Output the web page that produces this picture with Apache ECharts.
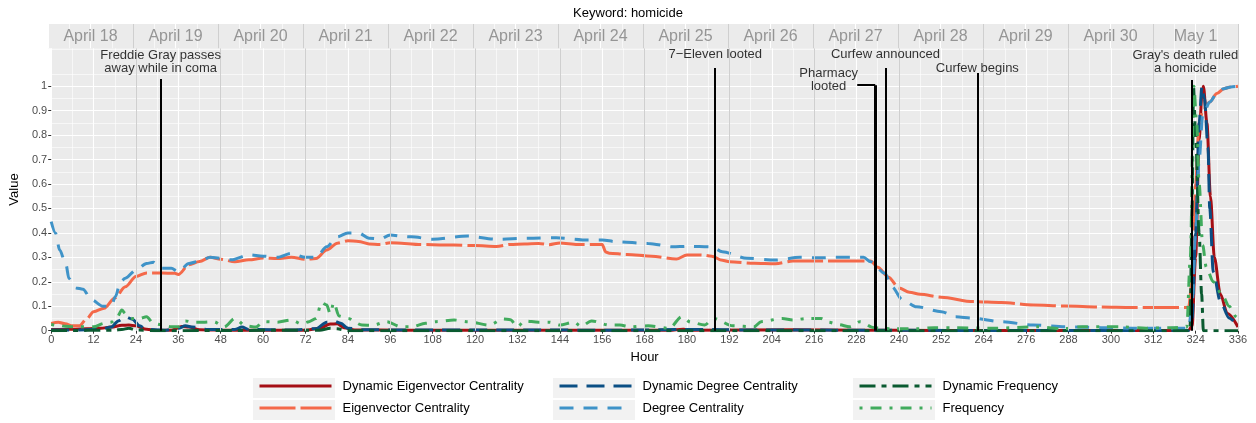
<!DOCTYPE html>
<html>
<head>
<meta charset="utf-8">
<script src="https://cdn.jsdelivr.net/npm/echarts@6/dist/echarts.min.js"></script>
<style>
html, body { margin: 0; padding: 0; background: #fff; }
#chart { width: 1256px; height: 423px; }
</style>
</head>
<body>
<div id="chart"></div>
<script>
// days shown in the top strip, one per 24 hours
const days = ['April 18', 'April 19', 'April 20', 'April 21', 'April 22', 'April 23', 'April 24',
  'April 25', 'April 26', 'April 27', 'April 28', 'April 29', 'April 30', 'May 1']
const xTicks = [0, 12, 24, 36, 48, 60, 72, 84, 96, 108, 120, 132, 144, 156, 168, 180, 192, 204,
  216, 228, 240, 252, 264, 276, 288, 300, 312, 324, 336]
const yTicks = [0, 0.1, 0.2, 0.3, 0.4, 0.5, 0.6, 0.7, 0.8, 0.9, 1]

// [hour, value]
const dynEigen = [[0, 0.005], [6, 0.006], [10, 0.008], [14, 0.01], [17, 0.015], [20, 0.022], [22, 0.023],
  [24, 0.02], [27, 0.006], [30, 0.001], [34, 0.002], [37, 0.017], [39, 0.015], [42, 0.004], [50, 0.002],
  [60, 0.002], [72, 0.002], [76, 0.01], [79, 0.027], [81, 0.028], [83, 0.012], [86, 0.003], [100, 0.002],
  [120, 0.002], [150, 0.002], [175, 0.002], [179, 0.006], [182, 0.002], [210, 0.004], [230, 0.002],
  [250, 0.001], [280, 0.001], [322, 0.001], [323, 0.02], [324, 0.3], [325, 0.78], [325.8, 0.97],
  [326.2, 1.0], [327.2, 0.85], [328.2, 0.55], [329.3, 0.3], [331, 0.15], [333, 0.07], [336, 0.015]]

const eigen = [[0, 0.03], [2, 0.035], [4, 0.028], [6, 0.02], [8, 0.02], [10, 0.048], [12, 0.078],
  [15, 0.092], [18, 0.134], [21, 0.18], [24, 0.222], [27, 0.236], [30, 0.236], [33, 0.235], [35, 0.235],
  [36, 0.23], [39, 0.27], [42, 0.283], [45, 0.3], [48, 0.292], [52, 0.282], [56, 0.29], [60, 0.297],
  [64, 0.295], [68, 0.3], [72, 0.292], [75, 0.295], [78, 0.33], [81, 0.358], [84, 0.368], [87, 0.365],
  [90, 0.355], [93, 0.353], [96, 0.36], [100, 0.357], [104, 0.353], [108, 0.352], [114, 0.35],
  [120, 0.348], [126, 0.344], [130, 0.353], [134, 0.355], [138, 0.357], [141, 0.352], [144, 0.359],
  [149, 0.353], [156, 0.353], [157, 0.322], [158, 0.317], [163, 0.312], [170, 0.305], [177, 0.293],
  [180, 0.31], [184, 0.31], [187, 0.305], [190, 0.288], [192, 0.282], [199, 0.276], [205, 0.274],
  [210, 0.285], [218, 0.285], [225, 0.285], [232, 0.285], [234, 0.26], [237, 0.22], [240, 0.175],
  [243, 0.157], [246, 0.149], [252, 0.137], [261, 0.119], [269, 0.115], [278, 0.105], [287, 0.101],
  [297, 0.097], [306, 0.095], [322, 0.095], [323, 0.2], [324, 0.6], [325, 0.85], [326, 0.9],
  [328, 0.935], [330, 0.97], [332, 0.99], [334, 0.997], [336, 1.0]]

const dynDegree = [[0, 0.003], [8, 0.003], [14, 0.006], [17, 0.015], [19, 0.04], [21, 0.057],
  [23, 0.047], [25, 0.02], [27, 0.005], [32, 0.002], [36, 0.01], [38, 0.02], [40, 0.015], [44, 0.005],
  [52, 0.005], [54, 0.015], [56, 0.005], [68, 0.003], [75, 0.008], [78, 0.035], [80, 0.04], [82, 0.03],
  [84, 0.01], [88, 0.004], [100, 0.003], [130, 0.003], [160, 0.002], [180, 0.005], [200, 0.003],
  [230, 0.002], [260, 0.001], [322, 0.001], [323, 0.05], [324, 0.4], [325, 0.85], [325.8, 1.0],
  [326.5, 0.95], [327.5, 0.75], [328, 0.5], [329, 0.24], [331, 0.12], [333.5, 0.052], [336, 0.016]]

const degree = [[0, 0.446], [1.2, 0.4], [2.4, 0.33], [4.2, 0.27], [5, 0.214], [7, 0.175], [9, 0.17],
  [11.4, 0.126], [14.7, 0.1], [17, 0.1], [18.2, 0.14], [19.6, 0.2], [21, 0.215], [24, 0.248],
  [27, 0.275], [29, 0.28], [31, 0.255], [34, 0.255], [36, 0.241], [39, 0.275], [42, 0.285], [45, 0.3],
  [48, 0.296], [51, 0.29], [56, 0.31], [60, 0.305], [64, 0.3], [68, 0.316], [72, 0.3], [75, 0.3],
  [78, 0.343], [81, 0.384], [84, 0.4], [87, 0.4], [90, 0.378], [93, 0.375], [96, 0.391], [100, 0.385],
  [102, 0.384], [108, 0.374], [118, 0.387], [126, 0.374], [135, 0.378], [143, 0.38], [152, 0.371],
  [156, 0.371], [160, 0.364], [169, 0.357], [176, 0.343], [180, 0.345], [187, 0.343], [190, 0.323],
  [197, 0.296], [205, 0.289], [212, 0.3], [218, 0.298], [222, 0.3], [230, 0.3], [232, 0.282],
  [236, 0.235], [238, 0.18], [241, 0.126], [245, 0.098], [252, 0.078], [256, 0.057], [261, 0.051],
  [269, 0.037], [278, 0.023], [287, 0.016], [297, 0.013], [306, 0.01], [322, 0.01], [323, 0.1],
  [324, 0.4], [325, 0.7], [326, 0.88], [328, 0.935], [330, 0.97], [332, 0.99], [334, 0.997], [336, 1.0]]

const dynFreq = [[0, 0], [18, 0.002], [20, 0.005], [22, 0.01], [24, 0.003], [30, 0], [76, 0.002],
  [79, 0.01], [81, 0.008], [84, 0], [322.4, 0], [323, 0.5], [323.4, 1.0], [324, 0.8], [325, 0.4],
  [325.7, 0.15], [326.2, 0], [336, 0]]

const freq = [[0, 0.025], [2, 0.022], [4, 0.018], [6, 0.016], [8, 0.016], [12, 0.016], [15, 0.03],
  [17, 0.035], [18.5, 0.05], [20, 0.085], [21, 0.07], [23, 0.05], [25, 0.05], [27, 0.057], [29, 0.03],
  [31, 0.025], [34, 0.016], [36, 0.016], [38, 0.04], [40, 0.035], [43, 0.035], [46, 0.037], [49, 0.016],
  [52, 0.05], [55, 0.02], [58, 0.015], [60, 0.037], [64, 0.035], [68, 0.044], [71, 0.027], [73, 0.037],
  [75, 0.05], [76.5, 0.115], [78, 0.105], [79, 0.07], [80, 0.115], [81.5, 0.06], [84, 0.05], [88, 0.023],
  [91, 0.022], [95, 0.037], [99, 0.016], [102, 0.016], [106, 0.03], [109, 0.037], [114, 0.044],
  [118, 0.037], [124, 0.023], [128, 0.048], [130, 0.045], [132, 0.016], [134, 0.04], [138, 0.035],
  [141, 0.035], [144, 0.023], [148, 0.035], [150, 0.018], [153, 0.04], [158, 0.023], [161, 0.023],
  [164, 0.016], [169, 0.02], [175, 0.01], [178.5, 0.057], [181, 0.035], [185, 0.023], [187.5, 0.05],
  [193, 0.02], [199, 0.016], [201, 0.037], [207, 0.05], [210, 0.044], [214, 0.05], [218, 0.05],
  [220, 0.035], [223, 0.025], [226, 0.016], [229, 0.037], [233, 0.012], [238, 0.008], [245, 0.008],
  [250, 0.012], [256, 0.012], [267, 0.01], [279, 0.016], [286, 0.008], [292, 0.016], [298, 0.016],
  [303, 0.016], [310, 0.01], [317, 0.012], [321.5, 0.015], [322.5, 0.3], [323.5, 1.0], [324.3, 0.85],
  [325, 0.6], [326, 0.35], [327, 0.26], [329, 0.2], [331.5, 0.146], [333.5, 0.1], [335.5, 0.057],
  [336, 0.04]]

// events (hour of the vertical line and its text)
const eventHours = [30.9, 188, 233.3, 236.2, 262.2, 322.8]
const eventLabels = ['Freddie Gray passes\naway while in coma', '7\u2212Eleven looted', 'Pharmacy\nlooted',
  'Curfew announced', 'Curfew begins', "Gray's death ruled\na homicide"]
// where each line stops at the top, and where its text sits
const eventTops = [1.029, 1.074, 1.004, 1.074, 1.054, 1.025]
const eventTextAt = [[31, 1.099], [188, 1.128], [220.1, 1.025], [236.2, 1.128], [262.2, 1.074], [321.1, 1.099]]
const eventWidths = [2, 2, 3, 2, 2, 2]

// legend, laid out as in the original: 3 columns, 2 rows
const legendOrder = ['Dynamic Eigenvector Centrality', 'Dynamic Degree Centrality', 'Dynamic Frequency',
  'Eigenvector Centrality', 'Degree Centrality', 'Frequency']

const FONT = 'Liberation Sans'
const dayLines = days.map((d, i) => ({ xAxis: 24 * (i + 1) }))

const lineSeries = (name, data, color, type) => ({
  name,
  type: 'line',
  data,
  symbol: 'none',
  smooth: 0.3,
  smoothMonotone: 'x',
  lineStyle: { color, width: 3, type, cap: 'butt' },
  itemStyle: { color },
  z: 3,
  silent: true,
})

const eventLines = eventHours.map((h, i) => [
  { coord: [h, eventTops[i]], lineStyle: { width: eventWidths[i] } },
  { coord: [h, 0] },
])
// little elbow joining "Pharmacy looted" to its line
eventLines.push([{ coord: [228.2, eventTops[2]] }, { coord: [eventHours[2], eventTops[2]] }])

const xBase = {
  type: 'value', min: 0, max: 336, interval: 12,
  splitLine: { show: true, lineStyle: { color: '#ffffff', width: 1.1 } },
  minorTick: { show: false, splitNumber: 2 },
  minorSplitLine: { show: true, lineStyle: { color: '#ffffff', width: 0.6 } },
}

const legends = legendOrder.map((name, i) => ({
  data: [name],
  left: 258 + (i % 3) * 300,
  top: 378 + Math.floor(i / 3) * 22,
  orient: 'horizontal',
  padding: 0,
  itemWidth: 72,
  itemHeight: 20,
  itemGap: 2,
  selectedMode: false,
  itemStyle: { opacity: 0 },
  lineStyle: { width: 3, opacity: 1 },
  textStyle: { fontFamily: FONT, fontSize: 13, color: '#000', padding: [0, 0, 0, 6] },
}))

const myChart = echarts.init(document.getElementById('chart'))
const option = {
  animation: false,
  backgroundColor: '#ffffff',
  textStyle: { fontFamily: FONT },
  title: {
    text: 'Keyword: homicide',
    left: 'center',
    top: 2,
    textStyle: { fontFamily: FONT, fontSize: 13, fontWeight: 'normal', color: '#000' },
  },
  grid: [
    { left: 48, right: 18, top: 48.3, bottom: 92.3, show: true, backgroundColor: '#ebebeb', borderWidth: 0 },
    { left: 48, right: 18, top: 24, height: 24.3, show: true, backgroundColor: '#ebebeb', borderWidth: 0 },
  ],
  xAxis: [
    {
      ...xBase,
      gridIndex: 0,
      name: 'Hour',
      nameLocation: 'middle',
      nameGap: 18,
      nameTextStyle: { fontFamily: FONT, fontSize: 13, color: '#000' },
      axisLine: { show: false },
      axisTick: { show: true, length: 3, lineStyle: { color: '#333' } },
      axisLabel: { customValues: xTicks, fontFamily: FONT, fontSize: 11, color: '#4d4d4d', margin: 4 },
    },
    {
      ...xBase,
      gridIndex: 1,
      axisLine: { show: false },
      axisTick: { show: false },
      axisLabel: { show: false },
    },
  ],
  yAxis: [
    {
      type: 'value', gridIndex: 0, min: 0, max: 1.155, interval: 0.1,
      name: 'Value',
      nameLocation: 'middle',
      nameGap: 26,
      nameTextStyle: { fontFamily: FONT, fontSize: 13, color: '#000' },
      axisLine: { show: false },
      axisTick: { show: true, length: 3, customValues: yTicks, lineStyle: { color: '#333' } },
      axisLabel: {
        customValues: yTicks, fontFamily: FONT, fontSize: 11, color: '#4d4d4d', margin: 4,
        formatter: (v) => (v > 1.0001 ? '' : String(+v.toFixed(1))),
      },
      splitLine: { show: true, lineStyle: { color: '#ffffff', width: 1.1 } },
      minorTick: { show: false, splitNumber: 2 },
      minorSplitLine: { show: true, lineStyle: { color: '#ffffff', width: 0.6 } },
    },
    {
      type: 'value', gridIndex: 1, min: 0, max: 1, show: false, splitLine: { show: false },
    },
  ],
  legend: legends,
  graphic: [0, 1].flatMap((r) => [0, 1, 2].map((c) => ({
    type: 'rect',
    left: 253 + c * 300,
    top: 378 + r * 22,
    z: -1,
    shape: { width: 82, height: 20 },
    style: { fill: '#f2f2f2' },
  }))),
  series: [
    {
      // day separators in the plot
      type: 'line', data: [], xAxisIndex: 0, yAxisIndex: 0, z: 1, silent: true,
      markLine: {
        silent: true, symbol: 'none', label: { show: false },
        lineStyle: { color: '#cfcfcf', width: 1, type: 'solid' },
        data: dayLines,
      },
    },
    {
      // day strip: separators + names
      type: 'scatter', xAxisIndex: 1, yAxisIndex: 1, symbolSize: 0, z: 2, silent: true,
      data: days.map((d, i) => ({ value: [12 + 24 * i, 0.5], name: d })),
      label: {
        show: true, position: 'inside', formatter: (p) => p.name,
        fontFamily: FONT, fontSize: 16, color: '#7f7f7f',
      },
      markLine: {
        silent: true, symbol: 'none', label: { show: false },
        lineStyle: { color: '#cfcfcf', width: 1, type: 'solid' },
        data: dayLines,
      },
    },
    lineSeries('Dynamic Eigenvector Centrality', dynEigen, '#a50f15', 'solid'),
    lineSeries('Eigenvector Centrality', eigen, '#f4694a', [36, 5]),
    lineSeries('Dynamic Degree Centrality', dynDegree, '#0b4f84', [18, 9]),
    lineSeries('Degree Centrality', degree, '#3f93c8', [14, 10]),
    lineSeries('Dynamic Frequency', dynFreq, '#0a5a30', [16, 6, 5, 6]),
    lineSeries('Frequency', freq, '#41ab5d', [3, 8, 11, 8]),
    {
      // event lines and their texts
      type: 'scatter', xAxisIndex: 0, yAxisIndex: 0, symbolSize: 0, z: 5, silent: true,
      data: eventTextAt.map((p, i) => ({ value: p, name: eventLabels[i] })),
      label: {
        show: true, position: 'inside', formatter: (p) => p.name,
        fontFamily: FONT, fontSize: 13, lineHeight: 12.5, color: '#000',
      },
      markLine: {
        silent: true, symbol: 'none', label: { show: false },
        lineStyle: { color: '#000', width: 2, type: 'solid' },
        data: eventLines,
      },
    },
  ],
}
myChart.setOption(option)
</script>
</body>
</html>
